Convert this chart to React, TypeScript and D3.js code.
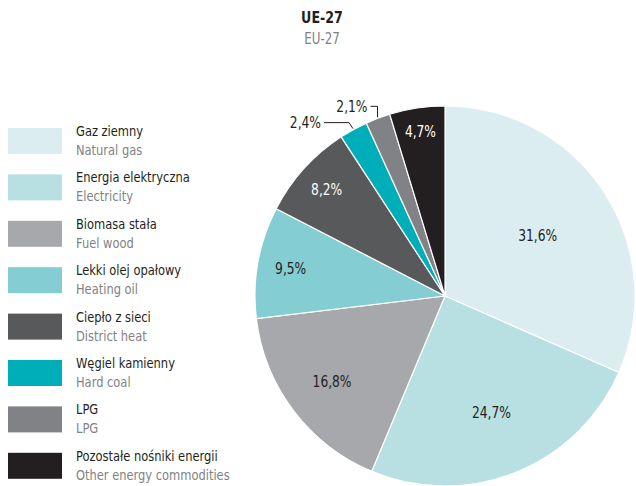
import React, { useRef, useEffect } from "react";
import * as d3 from "d3";

const labelsPl = [
  "Gaz ziemny",
  "Energia elektryczna",
  "Biomasa stała",
  "Lekki olej opałowy",
  "Ciepło z sieci",
  "Węgiel kamienny",
  "LPG",
  "Pozostałe nośniki energii",
];
const labelsEn = [
  "Natural gas",
  "Electricity",
  "Fuel wood",
  "Heating oil",
  "District heat",
  "Hard coal",
  "LPG",
  "Other energy commodities",
];
const shares = [31.6, 24.7, 16.8, 9.5, 8.2, 2.4, 2.1, 4.7];
const colors = ["#dcedf1", "#b8e0e2", "#a7a8ac", "#84cdd2", "#58595b", "#00aeba", "#808285", "#231f20"];
const labelColors = ["#231f20", "#231f20", "#231f20", "#231f20", "#ffffff", "#231f20", "#231f20", "#ffffff"];
const outside = [false, false, false, false, false, true, true, false];

const W = 636;
const H = 486;
const FONT = "'Liberation Sans Narrow', 'DejaVu Sans Condensed', 'Roboto', sans-serif";
const DARK = "#231f20";
const GREY = "#808285";
const SX = 0.88; // squeeze text horizontally to mimic a condensed face

type Slice = { pl: string; en: string; value: number; color: string; text: string; out: boolean };

const App: React.FC = () => {
  const svgRef = useRef<SVGSVGElement | null>(null);

  useEffect(() => {
    document.body.style.margin = "0";
    const svg = d3.select(svgRef.current).attr("width", W).attr("height", H);
    svg.selectAll("*").remove();

    const data: Slice[] = shares.map((v, i) => ({
      pl: labelsPl[i],
      en: labelsEn[i],
      value: v,
      color: colors[i],
      text: labelColors[i],
      out: outside[i],
    }));

    const fmt = (v: number) => d3.format(".1f")(v).replace(".", ",") + "%";

    // title
    svg
      .append("text")
      .attr("transform", `translate(322, 23) scale(${SX}, 1)`)
      .attr("text-anchor", "middle")
      .style("font-family", FONT)
      .style("font-weight", "bold")
      .style("font-size", "16px")
      .style("fill", DARK)
      .text("UE-27");
    svg
      .append("text")
      .attr("transform", `translate(322, 44) scale(${SX}, 1)`)
      .attr("text-anchor", "middle")
      .style("font-family", FONT)
      .style("font-size", "15px")
      .style("fill", GREY)
      .text("EU-27");

    // legend
    const legend = svg
      .selectAll("g.leg")
      .data(data)
      .enter()
      .append("g")
      .attr("class", "leg")
      .attr("transform", (d, i) => `translate(8, ${128 + i * 46.4})`);
    legend
      .append("rect")
      .attr("width", 54)
      .attr("height", 26)
      .attr("fill", (d) => d.color);
    legend
      .append("text")
      .attr("transform", `translate(68, 8) scale(${SX}, 1)`)
      .style("font-family", FONT)
      .style("font-size", "14.5px")
      .style("fill", DARK)
      .text((d) => d.pl);
    legend
      .append("text")
      .attr("transform", `translate(68, 27) scale(${SX}, 1)`)
      .style("font-family", FONT)
      .style("font-size", "14.5px")
      .style("fill", GREY)
      .text((d) => d.en);

    // pie
    const cx = 445;
    const cy = 296;
    const radius = 190;
    const pie = d3
      .pie<Slice>()
      .sort(null)
      .value((d) => d.value)
      .startAngle(0)
      .endAngle(2 * Math.PI);
    const arc = d3.arc<d3.PieArcDatum<Slice>>().innerRadius(0).outerRadius(radius);
    const g = svg.append("g").attr("transform", `translate(${cx}, ${cy})`);
    const arcs = pie(data);

    g.selectAll("path")
      .data(arcs)
      .enter()
      .append("path")
      .attr("d", arc as any)
      .attr("fill", (d) => d.data.color)
      .attr("stroke", "#ffffff")
      .attr("stroke-width", 1.2);

    const pt = (a: number, r: number) => [r * Math.sin(a), -r * Math.cos(a)];

    // inside labels
    g.selectAll("text.in")
      .data(arcs.filter((d) => !d.data.out))
      .enter()
      .append("text")
      .attr("class", "in")
      .attr("transform", (d) => {
        const a = (d.startAngle + d.endAngle) / 2;
        const [x, y] = pt(a, radius * (0.93 - 0.011 * d.data.value));
        return `translate(${x}, ${y}) scale(${SX}, 1)`;
      })
      .attr("text-anchor", "middle")
      .attr("dy", "0.36em")
      .style("font-family", FONT)
      .style("font-size", "15.5px")
      .style("fill", (d) => d.data.text)
      .text((d) => fmt(d.data.value));

    // outside labels with leader lines
    arcs
      .filter((d) => d.data.out)
      .forEach((d, k) => {
        const a = (d.startAngle + d.endAngle) / 2;
        const [ex, ey] = pt(a, radius + 1);
        let points: [number, number][];
        if (k === 0) {
          points = [
            [ex, ey],
            [ex - 4, ey - 6],
            [ex - 29, ey - 6],
          ];
        } else {
          points = [
            [ex, ey],
            [ex, ey - 11],
            [ex - 7, ey - 11],
          ];
        }
        g.append("path")
          .attr("d", d3.line()(points) as string)
          .attr("fill", "none")
          .attr("stroke", DARK)
          .attr("stroke-width", 1);
        const last = points[points.length - 1];
        g.append("text")
          .attr("transform", `translate(${last[0] - 3}, ${last[1]}) scale(${SX}, 1)`)
          .attr("dy", "0.36em")
          .attr("text-anchor", "end")
          .style("font-family", FONT)
          .style("font-size", "15.5px")
          .style("fill", DARK)
          .text(fmt(d.data.value));
      });
  }, []);

  return <svg ref={svgRef} />;
};

export default App;
